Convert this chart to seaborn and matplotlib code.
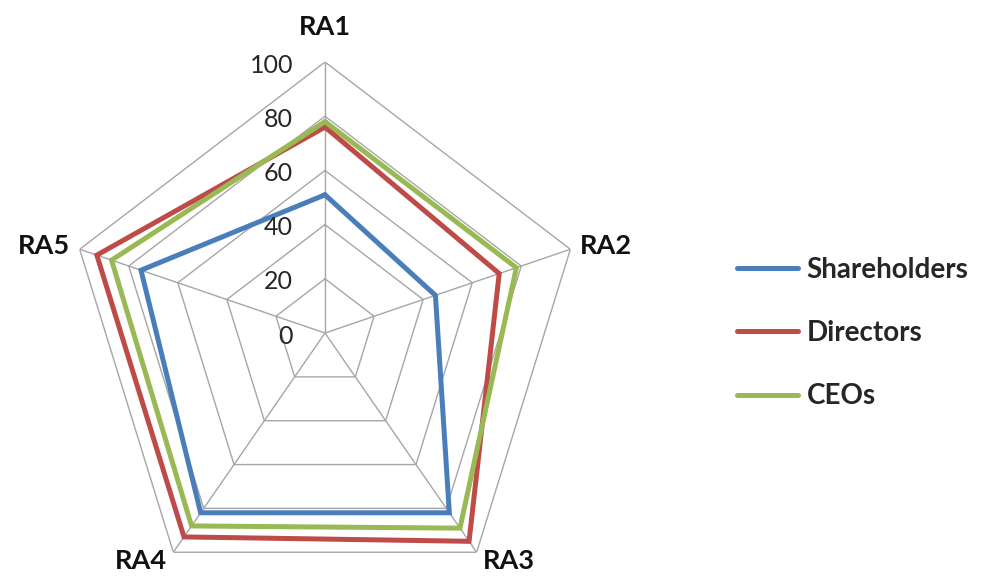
import numpy as np
import pandas as pd
import matplotlib
matplotlib.use("Agg")
import matplotlib.pyplot as plt
import matplotlib.transforms as mtransforms
import seaborn as sns

# Data
categories = ["RA1", "RA2", "RA3", "RA4", "RA5"]
shareholders = [51, 45, 82, 82, 75]
directors = [76, 71, 95, 93, 93]
ceos = [78, 78, 89, 88, 87]
series_names = ["Shareholders", "Directors", "CEOs"]
radial_ticks = [0, 20, 40, 60, 80, 100]

colors = ["#4A7EBB", "#BE4B48", "#98B954"]
grid_color = "#A6A6A6"

sns.set_theme(style="white")
plt.rcParams["font.family"] = ["Lato", "DejaVu Sans"]

n = len(categories)
angles = np.linspace(0, 2 * np.pi, n, endpoint=False)

# Long-form table, each polygon closed by repeating the first vertex at 2*pi
rows = []
for name, vals in zip(series_names, [shareholders, directors, ceos]):
    for i in range(n):
        rows.append({"series": name, "theta": angles[i], "value": vals[i]})
    rows.append({"series": name, "theta": 2 * np.pi, "value": vals[0]})
df = pd.DataFrame(rows)

fig = plt.figure(figsize=(9.93, 5.78), dpi=100)
ax = fig.add_axes([0.0675, -0.045, 0.5196, 0.9377], projection="polar")
ax.set_theta_offset(np.pi / 2)
ax.set_theta_direction(-1)
ax.set_aspect("auto")
ax.set_ylim(0, 100)
ax.grid(False)
ax.set_xticks([])
ax.set_yticks([])
ax.spines["polar"].set_visible(False)
ax.patch.set_alpha(0)

# Pentagonal web grid and spokes
closed = np.append(angles, 2 * np.pi)
for r in radial_ticks[1:]:
    ax.plot(closed, [r] * (n + 1), color=grid_color, lw=1.0, zorder=1)
for a in angles:
    ax.plot([a, a], [0, radial_ticks[-1]], color=grid_color, lw=1.0, zorder=1)

sns.lineplot(data=df, x="theta", y="value", hue="series", hue_order=series_names,
             palette=colors, sort=False, estimator=None, units="series",
             linewidth=3.6, legend=False, ax=ax, zorder=3,
             solid_joinstyle="miter")
ax.set_xlabel("")
ax.set_ylabel("")

# Radial value labels to the left of the top spoke
offset = mtransforms.ScaledTranslation(-0.32, -0.03, fig.dpi_scale_trans)
for r in radial_ticks:
    ax.text(0, r, str(r), transform=ax.transData + offset, ha="right", va="center",
            fontsize=18, color="#262626")

# Category labels around the web
label_pos = [(113, "center", "center"), (104, "left", "center"), (104, "left", "center"),
             (104, "right", "center"), (104, "right", "center")]
for a, cat, (r, ha, va) in zip(angles, categories, label_pos):
    ax.text(a, r, cat, ha=ha, va=va, fontsize=19.5, fontweight="bold", color="#111111")

handles = ax.get_lines()[-3:]
fig.legend(handles, series_names, loc="center left",
           bbox_to_anchor=(737 / 993, 1 - 333 / 578), frameon=False,
           prop={"size": 20, "weight": "bold"}, handlelength=2.2, handletextpad=0.3,
           labelspacing=1.35, borderpad=0, borderaxespad=0)

fig.savefig("out.png", dpi=100, facecolor="white")
